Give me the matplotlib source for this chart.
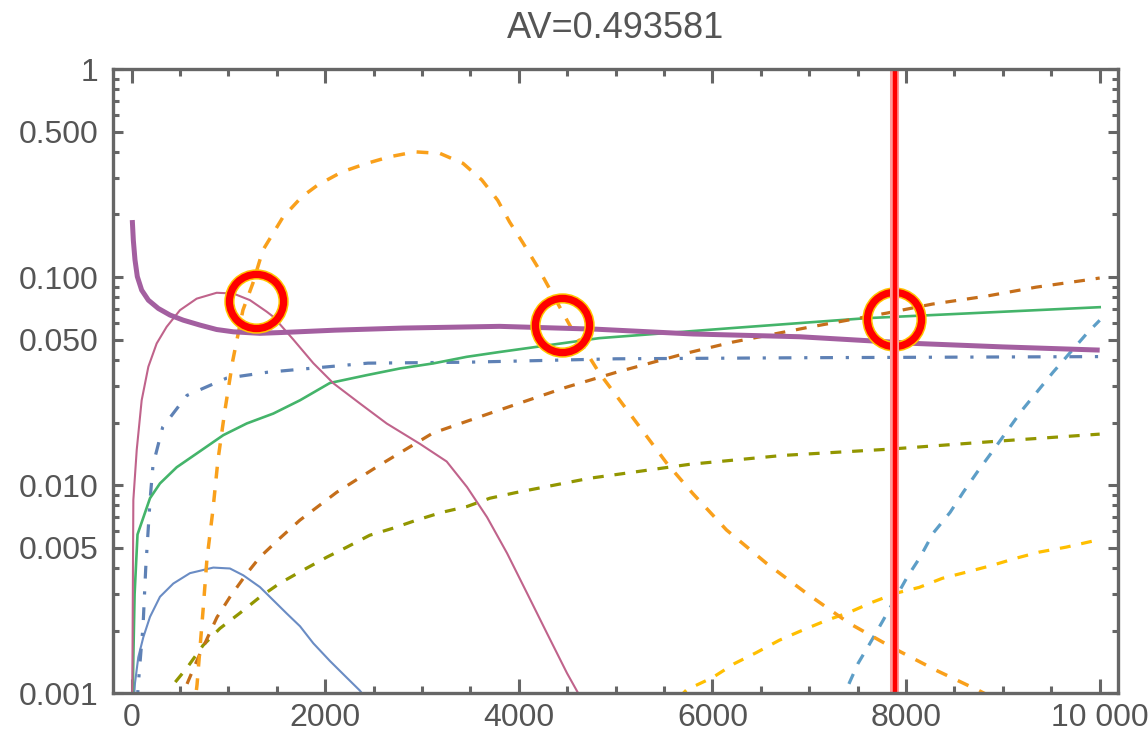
import numpy as np
import matplotlib.pyplot as plt
from matplotlib.ticker import FixedLocator, MultipleLocator, LogLocator, NullFormatter

plt.rcParams['font.family'] = ['Liberation Sans', 'DejaVu Sans']

# ---- data ----
title = 'AV=0.493581'

# thick purple solid
purple_x = [6, 17, 34, 58, 103, 172, 275, 396, 533, 706, 878, 1050, 1325, 1600, 2100, 2800, 3800, 4800,
            5800, 6900, 7600, 8100, 9000, 10000]
purple_y = [0.188, 0.150, 0.121, 0.1006, 0.0866, 0.0775, 0.0707, 0.0657, 0.0621, 0.0588, 0.056, 0.0546,
            0.0537, 0.0543, 0.0556, 0.0569, 0.058, 0.0562, 0.0533, 0.0517, 0.0495, 0.048, 0.0462, 0.0446]

# thin pink solid
pink_x = [5, 17, 52, 103, 172, 258, 361, 499, 671, 878, 1050, 1222, 1395, 1463, 1670, 1876, 2083, 2358,
          2634, 2978, 3254, 3464, 3671, 3878, 4084, 4291, 4497, 4640]
pink_y = [0.0008, 0.0085, 0.0148, 0.0256, 0.0371, 0.048, 0.0577, 0.0694, 0.0788, 0.0841, 0.0834, 0.0775,
          0.0682, 0.0645, 0.0501, 0.0386, 0.0309, 0.0247, 0.0198, 0.0158, 0.013, 0.0098, 0.00702, 0.00471,
          0.00303, 0.00194, 0.00125, 0.00095]

# thin blue solid
blue_x = [20, 34, 68, 120, 189, 292, 430, 602, 843, 1015, 1153, 1325, 1463, 1601, 1739, 1876, 2048, 2221,
          2358, 2450]
blue_y = [0.0009, 0.00112, 0.00149, 0.00186, 0.00233, 0.00291, 0.00337, 0.00378, 0.00402, 0.00398, 0.00369,
          0.00324, 0.0028, 0.00242, 0.0021, 0.00174, 0.00143, 0.00119, 0.00103, 0.0009]

# blue dash-dot
dashdot_x = [55, 80, 117, 145, 190, 220, 320, 570, 980, 1400, 2440, 3460, 5000, 7000, 10000]
dashdot_y = [0.0009, 0.0013, 0.0021, 0.004, 0.0085, 0.0125, 0.019, 0.027, 0.0327, 0.0349, 0.0386, 0.039,
             0.0405, 0.041, 0.0415]

# green solid
green_x = [8, 17, 30, 60, 189, 292, 465, 671, 946, 1188, 1463, 1739, 2048, 2428, 2772, 3116, 3461, 3805,
           4830, 6200, 7590, 10000]
green_y = [0.0008, 0.0015, 0.003, 0.0058, 0.00866, 0.0102, 0.0122, 0.0142, 0.0174, 0.0198, 0.0221, 0.0256,
           0.031, 0.0338, 0.0364, 0.0385, 0.0414, 0.0437, 0.0509, 0.0569, 0.0635, 0.0717]

# big orange dashed
orange_x = [640, 675, 737, 777, 839, 891, 963, 1045, 1149, 1252, 1355, 1562, 1757, 1922, 2170, 2428, 2668,
            2927, 3185, 3423, 3617, 3781, 3904, 4038, 4183, 4296, 4554, 4833, 5174, 5525, 5793, 6144, 6556,
            6969, 7413, 7857, 8311, 8754, 8900]
orange_y = [0.0008, 0.0011, 0.0025, 0.0044, 0.0076, 0.0132, 0.0229, 0.0399, 0.0694, 0.0935, 0.1347, 0.194,
            0.243, 0.277, 0.32, 0.352, 0.379, 0.40, 0.393, 0.352, 0.293, 0.234, 0.184, 0.147, 0.114, 0.0916,
            0.0556, 0.0345, 0.0212, 0.0128, 0.00916, 0.0061, 0.00422, 0.00303, 0.00217, 0.00166, 0.00129,
            0.00103, 0.00095]

# dark orange dashed
dkorange_x = [470, 498, 568, 675, 881, 1014, 1190, 1324, 1530, 1737, 2118, 2562, 3110, 3729, 4492, 5008,
              5731, 6206, 7001, 7796, 8271, 8828, 9344, 9860, 10000]
dkorange_y = [0.0009, 0.001, 0.0011, 0.00144, 0.00232, 0.0029, 0.00377, 0.00451, 0.00556, 0.00679, 0.00925,
              0.0125, 0.0178, 0.0224, 0.0296, 0.0349, 0.0431, 0.0487, 0.0575, 0.0671, 0.0742, 0.081, 0.0895,
              0.0968, 0.099]

# olive dashed
olive_x = [400, 428, 573, 737, 911, 1118, 1324, 1530, 1767, 2015, 2222, 2459, 2702, 2945, 3200, 3464, 3700,
           3960, 4730, 5762, 6721, 7825, 8960, 10000]
olive_y = [0.0009, 0.0011, 0.00133, 0.0017, 0.00205, 0.00243, 0.0029, 0.00338, 0.0039, 0.00451, 0.00504,
           0.00575, 0.00622, 0.0068, 0.0074, 0.0079, 0.00866, 0.0092, 0.0108, 0.0126, 0.0139, 0.0149,
           0.0163, 0.0176]

# light blue dashed
ltblue_x = [7300, 7390, 7503, 7627, 7762, 8010, 8145, 8279, 8455, 8590, 8734, 8890, 9200, 9518, 9870, 10000]
ltblue_y = [0.0009, 0.00106, 0.00139, 0.00174, 0.00224, 0.00361, 0.00451, 0.00588, 0.00741, 0.00925,
            0.01155, 0.0145, 0.023, 0.0349, 0.0538, 0.062]

# yellow dashed
yellow_x = [5650, 5733, 6000, 6227, 6454, 6691, 6929, 7176, 7413, 7651, 7898, 8136, 8374, 8621, 8889, 9136,
            9374, 9653, 9921, 10000]
yellow_y = [0.00095, 0.00104, 0.00119, 0.00139, 0.00157, 0.0018, 0.00201, 0.00224, 0.00245, 0.00274,
            0.00303, 0.00323, 0.00357, 0.00382, 0.00412, 0.00446, 0.00477, 0.00504, 0.00538, 0.0055]

# red marker line and circled crossings
marker_x = 7890
circle_x = [1281, 4448, 7875]
circle_y = [0.0769, 0.0588, 0.063]

xticks = [0, 2000, 4000, 6000, 8000, 10000]
xtick_labels = ['0', '2000', '4000', '6000', '8000', '10 000']
yticks = [0.001, 0.005, 0.01, 0.05, 0.1, 0.5, 1]
ytick_labels = ['0.001', '0.005', '0.010', '0.050', '0.100', '0.500', '1']

# ---- plot ----
fig = plt.figure(figsize=(11.48, 7.35), dpi=100)
ax = fig.add_axes([0.0987, 0.0567, 0.8749, 0.8494])

dash = (3.4, 3.4)
ax.plot(blue_x, blue_y, color='#6a8cc4', lw=1.5)
ax.plot(dashdot_x, dashdot_y, color='#5e81b5', lw=2.3, dashes=(4.0, 4.0, 1.0, 4.0))
ax.plot(green_x, green_y, color='#44b46a', lw=1.9)
ax.plot(pink_x, pink_y, color='#c0638b', lw=1.5)
ax.plot(olive_x, olive_y, color='#929600', lw=2.3, dashes=dash)
ax.plot(dkorange_x, dkorange_y, color='#c56e1a', lw=2.3, dashes=dash)
ax.plot(ltblue_x, ltblue_y, color='#5d9ec7', lw=2.3, dashes=dash)
ax.plot(yellow_x, yellow_y, color='#ffbf00', lw=2.3, dashes=dash)
ax.plot(orange_x, orange_y, color='#f9a01b', lw=2.5, dashes=dash)
ax.plot(purple_x, purple_y, color='#a35fa0', lw=3.6, solid_capstyle='butt')

# circles at the crossings
ax.plot(circle_x, circle_y, 'o', ms=39, mfc='none', mec='#ffc400', mew=7.4)
ax.plot(circle_x, circle_y, 'o', ms=39, mfc='none', mec='#ff0000', mew=5.2)

# vertical marker
ax.axvline(marker_x - 20, color='#ff9a9a', lw=6.5)
ax.axvline(marker_x, color='#ff0000', lw=3.2)

ax.set_yscale('log')
ax.set_xlim(-190, 10186)
ax.set_ylim(0.001, 1)

ax.xaxis.set_major_locator(FixedLocator(xticks))
ax.set_xticklabels(xtick_labels)
ax.xaxis.set_minor_locator(MultipleLocator(500))
ax.yaxis.set_major_locator(FixedLocator(yticks))
ax.set_yticklabels(ytick_labels)
ax.yaxis.set_minor_locator(LogLocator(base=10, subs=np.arange(2, 10)))
ax.yaxis.set_minor_formatter(NullFormatter())

for side in ax.spines.values():
    side.set_color('#666666')
    side.set_linewidth(2.4)

ax.tick_params(which='both', direction='in', top=True, right=True, color='#666666', width=2.2,
               labelcolor='#555555', labelsize=23)
ax.tick_params(axis='x', which='major', length=10, pad=7)
ax.tick_params(axis='x', which='minor', length=5)
ax.tick_params(axis='y', which='major', length=7, pad=10.5)
ax.tick_params(axis='y', which='minor', length=4.5)

ax.set_title(title, fontsize=26, color='#555555', pad=22)

fig.savefig('out.png', dpi=100)
